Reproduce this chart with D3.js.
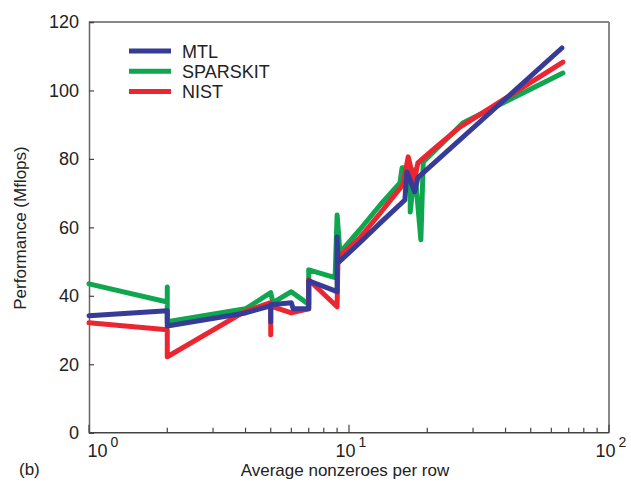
<!DOCTYPE html>
<html><head><meta charset="utf-8">
<script src="https://cdn.jsdelivr.net/npm/d3@7"></script>
<style>
html,body{margin:0;padding:0;background:#fff;}
text{font-family:"Liberation Sans",Arial,Helvetica,sans-serif;fill:#222;}
</style></head>
<body>
<svg id="c" width="631" height="487"></svg>
<script>
// ---- data ----
const seriesNames = ["MTL", "SPARSKIT", "NIST"];
const mtlX = [1, 2, 2, 4.0, 5, 5, 5, 6.0, 6.1, 7, 7, 9, 9, 9.07, 11, 13.2, 16.4, 16.7, 17.9, 18.4, 65.9];
const mtlY = [34.2, 35.6, 31.2, 35.0, 37.1, 32.4, 37.4, 38.0, 36.2, 36.2, 44.4, 41.2, 57.2, 49.6, 55.5, 61.3, 68.0, 76.2, 70.4, 74.5, 112.4];
const sparskitX = [1, 2, 2, 2, 4.0, 5, 5.1, 6, 7, 7, 8.84, 9, 9.23, 11, 13.2, 15.7, 16.0, 17.2, 17.2, 17.9, 18.9, 19.3, 27.4, 66.5];
const sparskitY = [43.5, 38.2, 42.6, 32.4, 36.2, 40.9, 38.0, 41.2, 37.5, 47.6, 45.3, 63.6, 52.6, 59.3, 66.6, 73.0, 77.4, 77.4, 64.5, 76.8, 56.4, 79.1, 90.5, 105.1];
const nistX = [1, 2, 2, 3.95, 5, 5, 5, 6, 7, 7, 9, 9.07, 11, 13.2, 16.1, 16.9, 17.8, 18.4, 21, 26.7, 66.5];
const nistY = [32.1, 30.1, 22.2, 35.3, 38.0, 28.6, 37.0, 35.0, 36.2, 44.7, 36.8, 51.1, 56.9, 64.2, 72.4, 80.6, 73.3, 78.8, 82.6, 89.3, 108.3];
const yTicks = [0, 20, 40, 60, 80, 100, 120];
const xMajor = [1, 10, 100];
const xExp = ["0", "1", "2"];
const xMinor = [2,3,4,5,6,7,8,9,20,30,40,50,60,70,80,90];

const colors = {MTL: "#353b97", SPARSKIT: "#0ea64e", NIST: "#ec2631"};

const svg = d3.select("#c");
const L = 89, R = 609, T = 22, B = 432.7;
const x = d3.scaleLog().domain([1, 100]).range([L, R]);
const y = d3.scaleLinear().domain([0, 120]).range([B, T]);

// frame
svg.append("line").attr("x1", L).attr("x2", R).attr("y1", T).attr("y2", T).attr("stroke", "#111").attr("stroke-width", 1.2);
svg.append("line").attr("x1", R).attr("x2", R).attr("y1", T).attr("y2", B).attr("stroke", "#888").attr("stroke-width", 2);

// y axis
const yAxis = d3.axisLeft(y).tickValues(yTicks).tickSize(-5).tickPadding(9).tickFormat(d3.format("d"));
const gy = svg.append("g").attr("transform", `translate(${L},0)`).call(yAxis);
gy.select(".domain").attr("stroke", "#666").attr("stroke-width", 1.5);
gy.selectAll(".tick line").attr("stroke", "#444").attr("stroke-width", 1.2);
gy.selectAll(".tick text").attr("font-size", 18).attr("font-family", '"Liberation Sans",Arial,sans-serif').attr("fill", "#222").attr("dx", -1);

// x axis
const gx = svg.append("g").attr("transform", `translate(0,${B})`);
gx.append("line").attr("x1", L).attr("x2", R).attr("stroke", "#444").attr("stroke-width", 1.5);
gx.selectAll(".minor").data(xMinor).enter().append("line")
  .attr("x1", d => x(d)).attr("x2", d => x(d)).attr("y1", 0).attr("y2", -5)
  .attr("stroke", "#444").attr("stroke-width", 1.2);
gx.selectAll(".major").data(xMajor).enter().append("line")
  .attr("x1", d => x(d)).attr("x2", d => x(d)).attr("y1", 0).attr("y2", -8)
  .attr("stroke", "#444").attr("stroke-width", 1.2);
const xl = gx.selectAll(".xl").data(xMajor).enter().append("text")
  .attr("x", (d, i) => x(d) + (i === 0 ? 14 : 2)).attr("y", 24)
  .attr("text-anchor", "middle").attr("font-size", 18);
xl.append("tspan").text("10");
xl.append("tspan").attr("dy", -10).attr("dx", 3).attr("font-size", 14).text((d, i) => xExp[i]);

// titles
svg.append("text").attr("x", 345).attr("y", 476).attr("text-anchor", "middle").attr("font-size", 17).text("Average nonzeroes per row");
svg.append("text").attr("x", 19).attr("y", 475).attr("font-size", 17).text("(b)");
svg.append("text").attr("transform", "translate(26,228) rotate(-90)").attr("text-anchor", "middle").attr("font-size", 17).text("Performance (Mflops)");

// lines
const line = d3.line().x(d => x(d[0])).y(d => y(d[1]));
const series = [
  {name: "SPARSKIT", xs: sparskitX, ys: sparskitY},
  {name: "NIST", xs: nistX, ys: nistY},
  {name: "MTL", xs: mtlX, ys: mtlY}
];
series.forEach(s => {
  const pts = s.xs.map((v, i) => [v, s.ys[i]]);
  svg.append("path").datum(pts).attr("d", line)
    .attr("fill", "none").attr("stroke", colors[s.name]).attr("stroke-width", 5)
    .attr("stroke-linejoin", "round").attr("stroke-linecap", "round");
});

// legend
const lg = svg.append("g").attr("transform", "translate(129,51)");
seriesNames.forEach((n, i) => {
  const yy = i * 20.3;
  lg.append("line").attr("x1", 0).attr("x2", 42).attr("y1", yy).attr("y2", yy)
    .attr("stroke", colors[n]).attr("stroke-width", 5);
  lg.append("text").attr("x", 53).attr("y", yy + 6.5).attr("font-size", 18).text(n);
});
</script>
</body></html>
